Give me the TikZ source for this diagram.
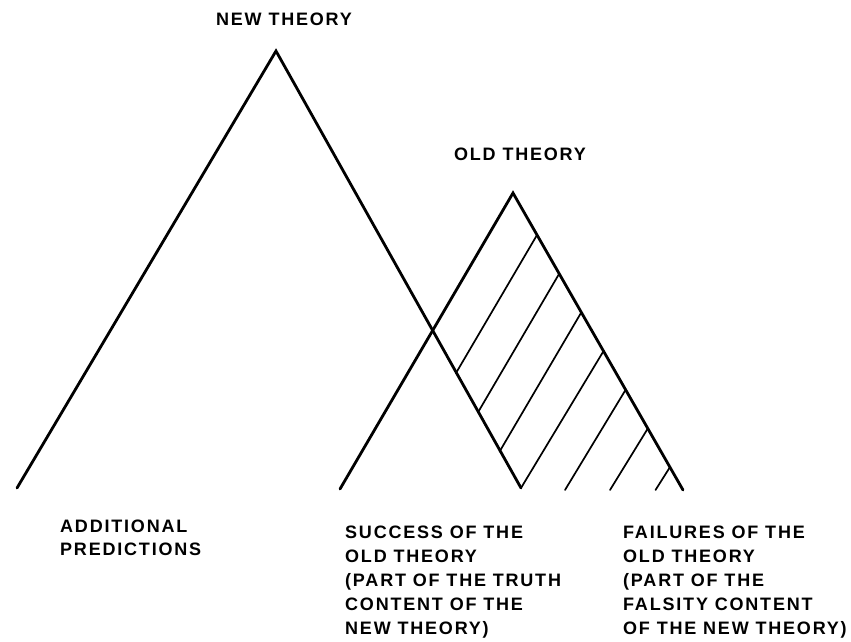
\documentclass[tikz,border=0pt]{standalone}
\usepackage{fontspec}
\setmainfont{Liberation Sans}[LetterSpace=10]
\usepackage{tikz}

\begin{document}
\begin{tikzpicture}[x=1pt,y=1pt,yscale=-1,xscale=1,
	font=\fontsize{18}{24}\selectfont\bfseries,
	theoryline/.style={line width=2.8pt, line cap=round, line join=miter},
	hatchline/.style={line width=1.7pt, line cap=round},
	lbl/.style={inner sep=0pt, align=left}]
	\useasboundingbox (0,0) rectangle (851,642);

	%Shape: Triangle (new theory)
	\draw [theoryline] (17,488) -- (276,51) -- (521,488) ;
	%Shape: Triangle (old theory)
	\draw [theoryline] (340,489) -- (513,193) -- (683,490) ;

	%Straight Lines (hatching)
	\draw [hatchline] (537,235) -- (455.9,373.2) ;
	\draw [hatchline] (559.2,273.7) -- (477.9,412.5) ;
	\draw [hatchline] (581.3,312.4) -- (499.6,451.5) ;
	\draw [hatchline] (603.5,351.1) -- (521,488) ;
	\draw [hatchline] (625.6,389.8) -- (565,490) ;
	\draw [hatchline] (647.8,428.5) -- (610,490) ;
	\draw [hatchline] (669.9,467.2) -- (655.5,490) ;

	% Text Node (anchors sit on the last baseline)
	\node (newtheory) [lbl, anchor=base] at (284,26) {NEW THEORY};
	% Text Node
	\node (oldtheory) [lbl, anchor=base] at (520,160) {OLD THEORY};
	% Text Node
	\node (additional) [lbl, anchor=base west, font=\fontsize{18}{23}\selectfont\bfseries] at (60,555) {ADDITIONAL\\PREDICTIONS};
	% Text Node
	\node (success) [lbl, anchor=base west] at (345,634) {SUCCESS OF THE\\OLD THEORY\\(PART OF THE TRUTH\\CONTENT OF THE\\NEW THEORY)};
	% Text Node
	\node (failures) [lbl, anchor=base west] at (623,634) {FAILURES OF THE\\OLD THEORY\\(PART OF THE\\FALSITY CONTENT\\OF THE NEW THEORY)};
\end{tikzpicture}
\end{document}
